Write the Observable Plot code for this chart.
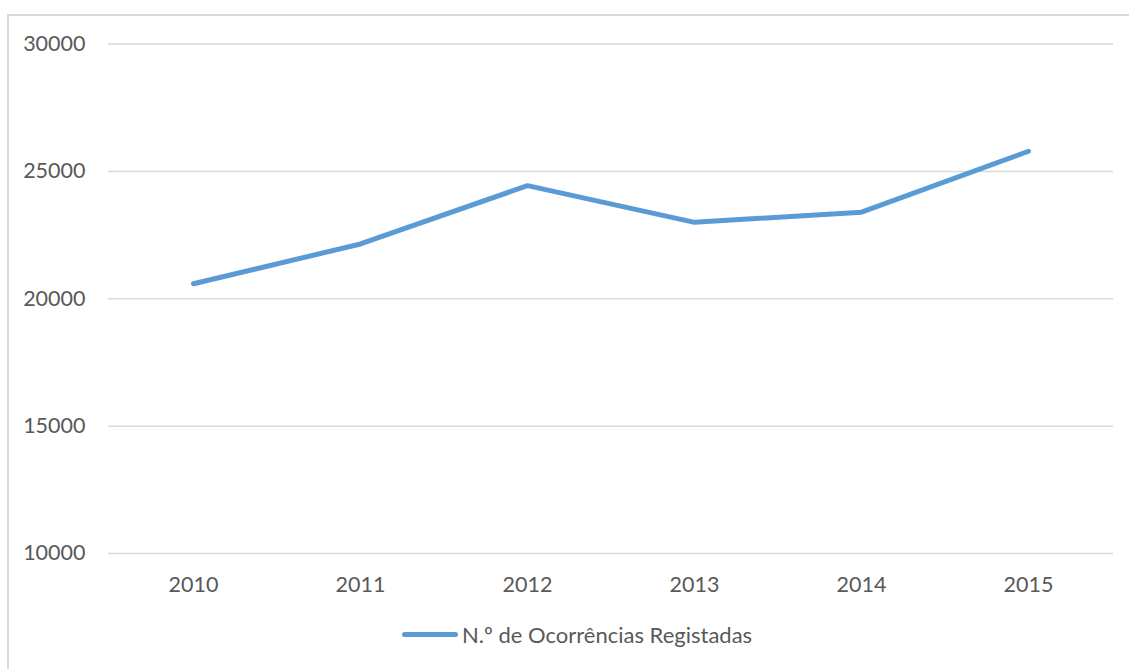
<!DOCTYPE html>
<html>
<head>
<meta charset="utf-8">
<script src="https://cdn.jsdelivr.net/npm/d3@7"></script>
<script src="https://cdn.jsdelivr.net/npm/@observablehq/plot@0.6"></script>
<style>
  html, body { margin: 0; padding: 0; background: #fff; width: 1129px; height: 669px; overflow: hidden; }
  #frame { position: absolute; left: 7px; top: 14px; width: 1200px; height: 800px; border: 2px solid #d9d9d9; box-sizing: border-box; }
  #chart { position: absolute; left: 0; top: 0; }
  #legend { position: absolute; left: 402px; top: 621px; display: flex; align-items: center; font-family: Lato, "Open Sans", sans-serif; font-size: 22px; color: #595959; }
  #legend .sw { width: 56px; height: 5px; border-radius: 3px; background: #5b9bd5; margin-right: 4px; }
</style>
</head>
<body>
<div id="frame"></div>
<div id="chart"></div>
<div id="legend"><span class="sw"></span><span id="legtext"></span></div>
<script>
const years = ["2010", "2011", "2012", "2013", "2014", "2015"];
const occurrences = [20590, 22150, 24440, 23000, 23400, 25790];
const yTicks = [10000, 15000, 20000, 25000, 30000];
const seriesName = "N.º de Ocorrências Registadas";

const data = years.map((y, i) => ({year: y, value: occurrences[i]}));

const chart = Plot.plot({
  width: 1129,
  height: 610,
  marginTop: 43.5,
  marginBottom: 57,
  marginLeft: 108,
  marginRight: 16,
  style: {fontFamily: "Lato, 'Open Sans', sans-serif", fontSize: "21.5px", color: "#595959", background: "transparent"},
  x: {type: "point", domain: years, padding: 0.5, label: null},
  y: {domain: [10000, 30000], ticks: yTicks, label: null},
  marks: [
    Plot.gridY(yTicks, {stroke: "#d9d9d9", strokeOpacity: 1, strokeWidth: 1.5}),
    Plot.axisY(yTicks, {tickSize: 0, tickPadding: 23, tickFormat: d => String(d), label: null}),
    Plot.axisX({tickSize: 0, tickPadding: 23, label: null}),
    Plot.line(data, {x: "year", y: "value", stroke: "#5b9bd5", strokeWidth: 5, strokeLinecap: "round", strokeLinejoin: "round"})
  ]
});
document.getElementById("chart").appendChild(chart);
document.getElementById("legtext").textContent = seriesName;
</script>
</body>
</html>
